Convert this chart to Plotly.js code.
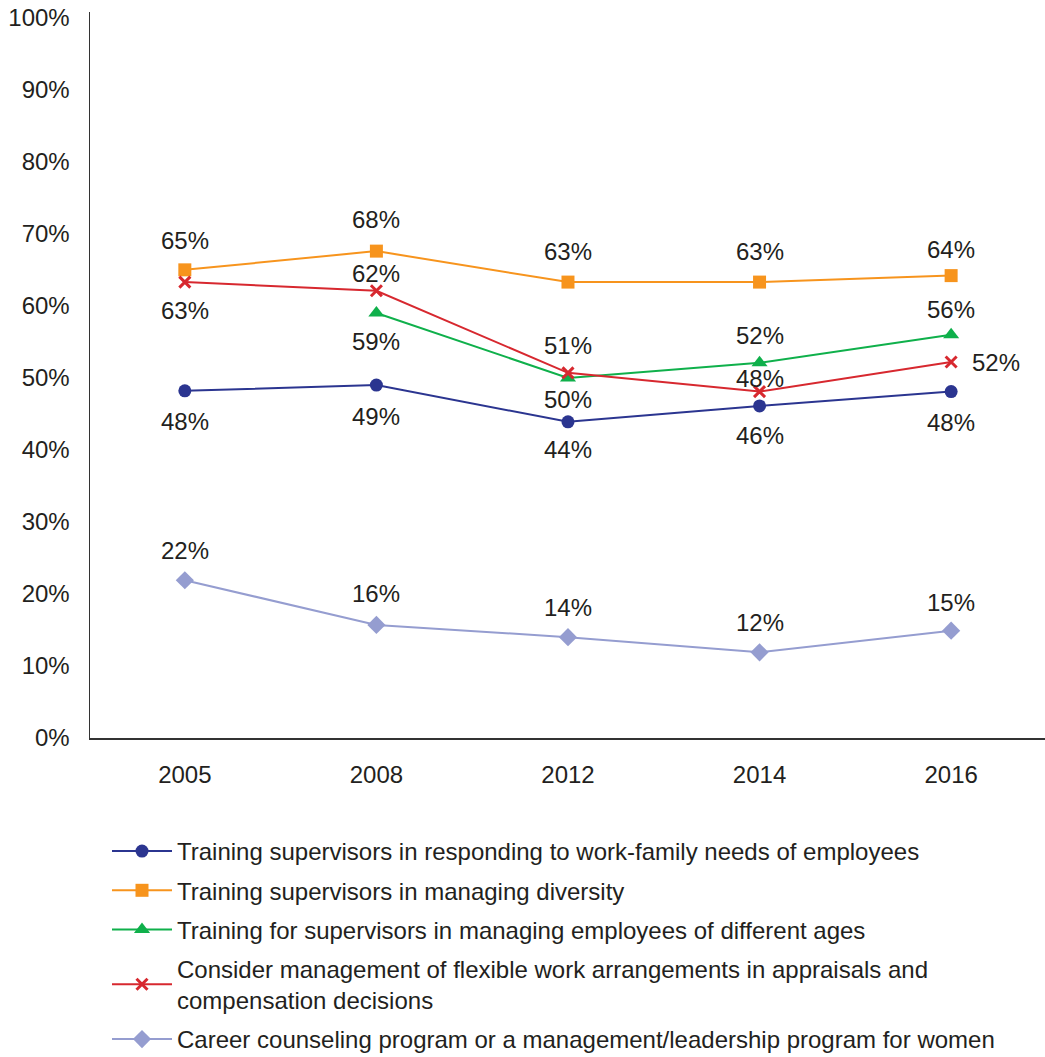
<!DOCTYPE html>
<html>
<head>
<meta charset="utf-8">
<script src="https://cdn.plot.ly/plotly-3.0.1.min.js"></script>
<style>
  body { margin: 0; background: #fff; }
  #chart { width: 1045px; height: 1057px; }
</style>
</head>
<body>
<div id="chart"></div>
<script>
"use strict";

var years = ["2005", "2008", "2012", "2014", "2016"];

var seriesNames = [
    "Training supervisors in responding to work-family needs of employees",
    "Training supervisors in managing diversity",
    "Training for supervisors in managing employees of different ages",
    "Consider management of flexible work arrangements in appraisals and<br>compensation decisions",
    "Career counseling program or a management/leadership program for women"
];

var workFamily = [48.2, 49.0, 43.9, 46.1, 48.1];
var diversity = [65.0, 67.6, 63.3, 63.3, 64.2];
var differentAges = [null, 59.0, 50.0, 52.1, 56.0];
var flexibleWork = [63.3, 62.1, 50.7, 48.1, 52.2];
var womenProgram = [21.9, 15.7, 14.0, 11.9, 14.9];

// label placement (pixels) for each point, per series
var labelShiftY = [
    [-31, -31, -28, -30, -31],
    [29, 32, 31, 31, 26],
    [0, -28, -22, 27, 25],
    [-28, 17, 27, 13, 0],
    [30, 31, 30, 30, 28]
];
var labelShiftX = [
    [0, 0, 0, 0, 0],
    [0, 0, 0, 0, 0],
    [0, 0, 0, 0, 0],
    [0, 0, 0, 0, 45],
    [0, 0, 0, 0, 0]
];

var colors = ["#2b3590", "#f7941d", "#0fb04b", "#d7282f", "#959dd0"];
var symbols = ["circle", "square", "triangle-up", "x-thin-open", "diamond"];
var sizes = [13, 13, 14, 11, 14];

var allValues = [workFamily, diversity, differentAges, flexibleWork, womenProgram];
var textColor = "#231f20";
var fontFamily = "'Liberation Sans', Arial, Helvetica, sans-serif";

var traces = [];
var annotations = [];

allValues.forEach(function(vals, i){
    traces.push({
        x: years,
        y: vals,
        name: seriesNames[i],
        type: "scatter",
        mode: "lines+markers",
        connectgaps: false,
        legendgroup: "g" + i,
        line: {color: colors[i], width: 2},
        marker: {
            color: colors[i],
            symbol: symbols[i],
            size: sizes[i],
            line: {color: colors[i], width: symbols[i] === "x-thin-open" ? 3 : 0}
        },
        hoverinfo: "skip"
    });
    vals.forEach(function(v, j){
        if(v === null){
            return;
        }
        // category axis: position the label by category index
        annotations.push({
            x: j,
            y: v,
            xref: "x",
            yref: "y",
            text: Math.round(v) + "%",
            showarrow: false,
            yshift: labelShiftY[i][j],
            xshift: labelShiftX[i][j],
            font: {size: 24, color: textColor, family: fontFamily}
        });
    });
});

var layout = {
    width: 1045,
    height: 1057,
    margin: {l: 90, r: 0, t: 12, b: 319, autoexpand: false},
    paper_bgcolor: "#ffffff",
    plot_bgcolor: "#ffffff",
    font: {family: fontFamily, size: 24, color: textColor},
    showlegend: true,
    legend: {
        orientation: "v",
        xref: "container",
        yref: "container",
        x: 107 / 1045,
        xanchor: "left",
        y: 1 - 829 / 1057,
        yanchor: "top",
        font: {size: 24, color: textColor},
        tracegroupgap: 5,
        itemwidth: 60
    },
    xaxis: {
        type: "category",
        range: [-0.495, 4.49],
        showline: true,
        linecolor: "#333333",
        linewidth: 1.5,
        showgrid: false,
        zeroline: false,
        ticks: "",
        ticklabelstandoff: 15,
        tickfont: {size: 24, color: textColor}
    },
    yaxis: {
        range: [0, 100.8],
        dtick: 10,
        tick0: 0,
        ticksuffix: "%",
        showline: true,
        linecolor: "#333333",
        linewidth: 1.5,
        showgrid: false,
        zeroline: false,
        ticks: "",
        ticklabelstandoff: 14,
        tickfont: {size: 24, color: textColor}
    },
    annotations: annotations
};

Plotly.newPlot("chart", traces, layout, {displayModeBar: false, staticPlot: true});
</script>
</body>
</html>
